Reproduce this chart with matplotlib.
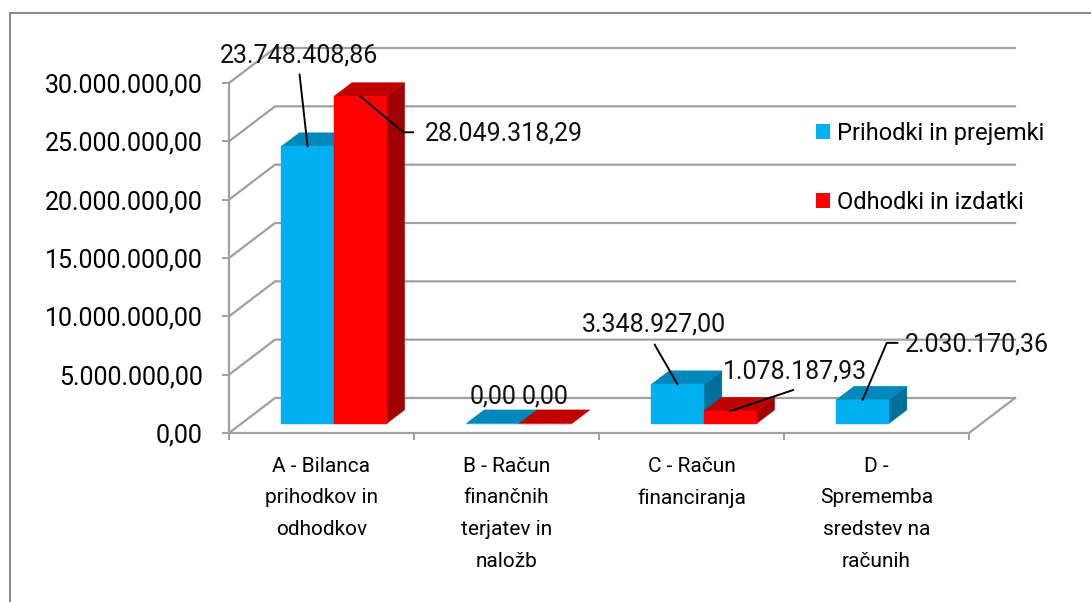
import matplotlib
matplotlib.use("Agg")
import matplotlib.pyplot as plt
from matplotlib.patches import Polygon, Patch, Rectangle

plt.rcParams['font.family'] = ['Roboto', 'DejaVu Sans']

# data
categories = ["A - Bilanca\nprihodkov in\nodhodkov",
              "B - Račun\nfinančnih\nterjatev in\nnaložb",
              "C - Račun\nfinanciranja",
              "D -\nSprememba\nsredstev na\nračunih"]
series_names = ["Prihodki in prejemki", "Odhodki in izdatki"]
prihodki = [23748408.86, 0.00, 3348927.00, 2030170.36]
odhodki = [28049318.29, 0.00, 1078187.93, None]
yticks = [0, 5e6, 10e6, 15e6, 20e6, 25e6, 30e6]

colors = {
    0: ("#00B0F0", "#0088BC", "#006F99"),   # front, top, side
    1: ("#FF0000", "#C00000", "#A00000"),
}
grid_c = "#A0A0A0"

# slovenian number format
def fmt(v):
    s = "{:,.2f}".format(v)
    return s.replace(",", "X").replace(".", ",").replace("X", ".")

fig = plt.figure(figsize=(10.91, 6.02), dpi=100)
ax = fig.add_axes([229/1091, 169/602, 740/1091, 350/602])
ax.set_xlim(0, 4)
ax.set_ylim(0, 30e6)

# depth of the 3d box (in data units)
DX = 0.249
DY = 3.0e6
T0, T1 = 0.27, 0.66   # bar front / back within the depth
W = 0.285

# outer frame
fig.add_artist(Rectangle((10/1091, -0.05), 1.2, 1 - 13/602 + 0.05, transform=fig.transFigure,
                         fill=False, edgecolor="#8C8C8C", lw=1.5))

# walls
for v in yticks:
    ax.plot([0, DX, 4 + DX], [v, v + DY, v + DY], color=grid_c, lw=1.6, clip_on=False, zorder=0)
ax.plot([4, 4 + DX], [0, DY], color=grid_c, lw=1.6, clip_on=False, zorder=0)

for sp in ["top", "right"]:
    ax.spines[sp].set_visible(False)
for sp in ["left", "bottom"]:
    ax.spines[sp].set_color(grid_c)
    ax.spines[sp].set_linewidth(1.6)
ax.set_facecolor("none")

ax.set_yticks(yticks)
ax.set_yticklabels([fmt(v) for v in yticks], fontsize=18)
ax.tick_params(axis="y", length=5, width=1.4, color=grid_c, pad=14)
ax.set_xticks(range(5))
ax.set_xticklabels([])
ax.tick_params(axis="x", which="major", length=5, width=1.4, color=grid_c)
ax.set_xticks([i + 0.5 for i in range(4)], minor=True)
ax.set_xticklabels(categories, minor=True, fontsize=15, linespacing=1.85)
ax.tick_params(axis="x", which="minor", length=0, pad=17)


def bar3d(x0, v, s):
    front, top, side = colors[s]
    fx = x0 + T0 * DX
    fy = T0 * DY
    bx = (T1 - T0) * DX
    by = (T1 - T0) * DY
    side_p = [(fx + W, fy), (fx + W + bx, fy + by), (fx + W + bx, fy + v + by), (fx + W, fy + v)]
    top_p = [(fx, fy + v), (fx + W, fy + v), (fx + W + bx, fy + v + by), (fx + bx, fy + v + by)]
    front_p = [(fx, fy), (fx + W, fy), (fx + W, fy + v), (fx, fy + v)]
    for pts, c in [(side_p, side), (top_p, top), (front_p, front)]:
        ax.add_patch(Polygon(pts, closed=True, facecolor=c, edgecolor=c, lw=0.3,
                             clip_on=False, zorder=2))
    return (fx + W / 2, fy + v)


anchors = {}
for i in range(4):
    for s, vals in enumerate([prihodki, odhodki]):
        v = vals[i]
        if v is None:
            continue
        x0 = i + 0.5 - W + s * W
        anchors[(i, s)] = (bar3d(x0, v, s), v)

# data labels: text offset (px), leader start (px), elbow angle
labels = [
    ((0, 0), (-9, 91), (-8, 72), None),
    ((0, 1), (144, -37), (53, -36), -40),
    ((1, 0), (0, 27), None, None),
    ((1, 1), (0, 27), None, None),
    ((2, 0), (-24, 60), (-23, 40), None),
    ((2, 1), (65, 39), (63, 21), None),
    ((3, 0), (114, 55), (35, 57), 67),
]
for key, toff, loff, ang in labels:
    (pt, v) = anchors[key]
    ax.annotate(fmt(v), xy=pt, xytext=toff, textcoords="offset pixels",
                ha="center", va="center", fontsize=18, color="#111111", zorder=5,
                annotation_clip=False)
    if loff is None:
        continue
    if ang is None:
        ax.annotate("", xy=pt, xytext=loff, textcoords="offset pixels",
                    arrowprops=dict(arrowstyle="-", color="black", lw=1.4,
                                    shrinkA=0, shrinkB=0), annotation_clip=False, zorder=5)
    else:
        ax.annotate("", xy=pt, xytext=loff, textcoords="offset pixels",
                    arrowprops=dict(arrowstyle="-", color="black", lw=1.4, shrinkA=0, shrinkB=0,
                                    connectionstyle="angle,angleA=0,angleB=%d,rad=0" % ang),
                    annotation_clip=False, zorder=5)

handles = [Patch(facecolor=colors[0][0]), Patch(facecolor=colors[1][0])]
fig.legend(handles, series_names, loc="upper left",
           bbox_to_anchor=(816/1091, 1 - 122/602), frameon=False, fontsize=17,
           handlelength=0.6, handleheight=0.6, handletextpad=0.3,
           labelspacing=1.95, borderpad=0, borderaxespad=0)

fig.savefig("out.png", dpi=100)
